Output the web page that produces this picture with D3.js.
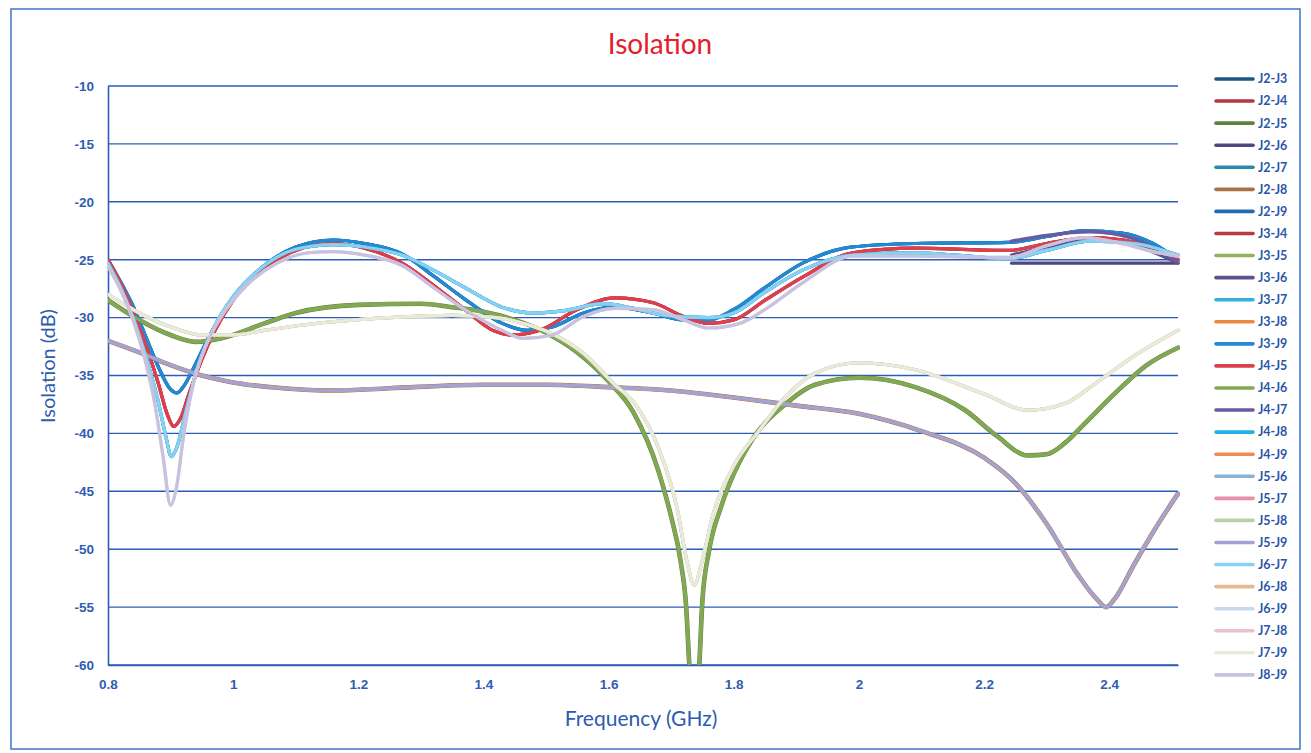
<!DOCTYPE html>
<html>
<head>
<meta charset="utf-8">
<script src="https://cdn.jsdelivr.net/npm/d3@7"></script>
<style>
  html, body { margin: 0; padding: 0; background: #fff; }
  svg { display: block; font-family: Lato, "Open Sans", sans-serif; }
</style>
</head>
<body>
<svg id="chart" width="1311" height="753"></svg>
<script>
// ---- data: [GHz, dB] points ----
const topNavy = [[0.80,-25.0],[0.82,-26.9],[0.84,-29.0],[0.86,-31.6],[0.88,-34.2],[0.90,-36.2],[0.91,-36.5],[0.92,-36.0],[0.94,-34.0],[0.96,-31.8],[1.00,-28.3],[1.05,-25.5],[1.10,-23.9],[1.16,-23.3],[1.21,-23.6],[1.27,-24.5],[1.32,-26.4],[1.37,-28.4],[1.43,-30.5],[1.47,-31.1],[1.51,-30.8],[1.56,-29.6],[1.61,-29.1],[1.67,-29.6],[1.72,-30.2],[1.76,-30.2],[1.80,-29.3],[1.85,-27.4],[1.91,-25.3],[1.99,-23.9],[2.09,-23.6],[2.24,-23.5],[2.30,-23.0],[2.36,-22.5],[2.42,-22.7],[2.47,-23.6],[2.51,-25.0]]

const topRed = [[0.80,-25.0],[0.82,-27.0],[0.84,-29.4],[0.86,-32.3],[0.88,-35.6],[0.895,-38.4],[0.905,-39.4],[0.915,-38.8],[0.93,-36.5],[0.95,-33.6],[0.97,-31.2],[1.00,-28.5],[1.05,-25.8],[1.10,-24.2],[1.16,-23.6],[1.21,-24.0],[1.27,-25.3],[1.32,-27.2],[1.37,-29.3],[1.415,-31.1],[1.447,-31.5],[1.49,-31.1],[1.55,-29.3],[1.61,-28.3],[1.67,-28.7],[1.72,-29.9],[1.76,-30.5],[1.80,-30.2],[1.85,-28.5],[1.91,-26.5],[1.99,-24.4],[2.09,-24.0],[2.24,-24.2],[2.30,-23.6],[2.37,-23.1],[2.44,-23.5],[2.51,-25.0]]

const topCyan = [[0.80,-25.3],[0.82,-27.4],[0.84,-30.0],[0.86,-33.3],[0.88,-37.2],[0.893,-40.4],[0.901,-42.0],[0.91,-41.2],[0.925,-38.0],[0.945,-34.0],[0.97,-30.8],[1.00,-28.2],[1.05,-25.5],[1.10,-24.1],[1.16,-23.7],[1.21,-23.9],[1.27,-24.6],[1.32,-25.9],[1.37,-27.4],[1.43,-29.1],[1.48,-29.6],[1.53,-29.4],[1.59,-28.8],[1.64,-29.2],[1.69,-29.8],[1.76,-30.0],[1.80,-29.6],[1.85,-27.8],[1.91,-25.9],[1.99,-24.6],[2.09,-24.4],[2.24,-24.9],[2.30,-24.2],[2.37,-23.4],[2.44,-23.6],[2.51,-24.6]]

const topLavender = [[0.80,-25.6],[0.82,-27.6],[0.84,-30.2],[0.86,-33.8],[0.875,-37.5],[0.888,-42.0],[0.90,-46.2],[0.91,-44.5],[0.92,-40.5],[0.935,-36.0],[0.955,-32.6],[0.98,-30.0],[1.02,-27.3],[1.07,-25.3],[1.12,-24.4],[1.16,-24.3],[1.21,-24.6],[1.27,-25.5],[1.32,-27.4],[1.37,-29.3],[1.43,-31.1],[1.463,-31.8],[1.51,-31.5],[1.56,-29.9],[1.61,-29.2],[1.67,-29.3],[1.72,-30.2],[1.76,-30.9],[1.81,-30.5],[1.85,-29.3],[1.91,-27.0],[1.99,-24.7],[2.09,-24.7],[2.24,-24.8],[2.30,-23.8],[2.36,-23.1],[2.42,-23.6],[2.47,-24.3],[2.51,-24.7]]

const green = [[0.80,-28.5],[0.85,-30.2],[0.90,-31.5],[0.94,-32.1],[0.98,-31.8],[1.05,-30.5],[1.10,-29.6],[1.20,-28.9],[1.30,-28.8],[1.35,-29.1],[1.40,-29.5],[1.45,-30.2],[1.50,-31.3],[1.55,-33.0],[1.60,-35.5],[1.64,-38.2],[1.68,-43.3],[1.70,-47.2],[1.715,-51.0],[1.724,-55.0],[1.729,-60.0],[1.737,-66.0],[1.745,-60.0],[1.75,-54.4],[1.76,-50.3],[1.78,-46.3],[1.80,-43.5],[1.83,-40.5],[1.88,-37.6],[1.93,-35.8],[2.00,-35.2],[2.09,-36.0],[2.17,-38.0],[2.22,-40.2],[2.27,-41.9],[2.30,-41.8],[2.33,-40.8],[2.36,-39.2],[2.41,-36.5],[2.46,-34.1],[2.51,-32.6]]

const paleGreen = [[0.80,-28.0],[0.85,-29.6],[0.90,-30.8],[0.95,-31.5],[1.00,-31.5],[1.05,-31.1],[1.15,-30.4],[1.25,-30.0],[1.35,-29.8],[1.42,-30.0],[1.47,-30.6],[1.51,-31.4],[1.56,-33.1],[1.61,-35.8],[1.64,-37.3],[1.68,-41.3],[1.71,-46.6],[1.725,-51.0],[1.737,-53.1],[1.75,-50.9],[1.766,-47.2],[1.80,-42.8],[1.84,-39.8],[1.88,-37.0],[1.93,-34.8],[2.00,-33.9],[2.09,-34.5],[2.20,-36.6],[2.27,-38.0],[2.33,-37.4],[2.38,-35.6],[2.44,-33.3],[2.51,-31.1]]

const lowCurve = [[0.80,-32.0],[0.85,-33.0],[0.90,-34.1],[0.95,-35.0],[1.00,-35.6],[1.08,-36.1],[1.16,-36.3],[1.25,-36.1],[1.40,-35.8],[1.50,-35.8],[1.60,-36.0],[1.70,-36.3],[1.80,-36.9],[1.90,-37.6],[2.00,-38.3],[2.10,-39.8],[2.20,-42.1],[2.25,-44.3],[2.30,-47.8],[2.35,-52.2],[2.38,-54.3],[2.395,-55.0],[2.41,-54.2],[2.44,-51.3],[2.475,-48.1],[2.51,-45.2]]

// purple traces that only appear at the high end
const purpleTop = [[2.244,-23.4],[2.30,-22.9],[2.37,-22.6],[2.44,-23.2],[2.51,-25.2]]
const purpleMid = [[2.244,-24.6],[2.30,-23.9],[2.37,-23.2],[2.43,-23.6],[2.51,-25.3]]
const purpleFlat = [[2.244,-25.3],[2.51,-25.3]]

const seriesNames = ['J2-J3','J2-J4','J2-J5','J2-J6','J2-J7','J2-J8','J2-J9','J3-J4','J3-J5','J3-J6','J3-J7','J3-J8','J3-J9','J4-J5','J4-J6','J4-J7','J4-J8','J4-J9','J5-J6','J5-J7','J5-J8','J5-J9','J6-J7','J6-J8','J6-J9','J7-J8','J7-J9','J8-J9']
const seriesColors = ['#1b5883','#b13944','#5f8240','#4f4682','#2a8aab','#a8714a','#1f6db0','#ba3a42','#92b25f','#5f5092','#34b2da','#e98a42','#2289d2','#dc3f4e','#82a852','#6a5aa0','#22b0e8','#f08a50','#8ab1d9','#e890a8','#b9d1a9','#a3a3d3','#8ad0f0','#e8b991','#c8d8ec','#e9c2cd','#e5edd9','#c9c1dd']
const seriesData = [topNavy, topRed, green, purpleFlat, topCyan, lowCurve, topNavy, topRed, green, purpleMid, topCyan, lowCurve, topNavy, topRed, green, purpleTop, topCyan, lowCurve, lowCurve, paleGreen, paleGreen, lowCurve, topCyan, paleGreen, topLavender, paleGreen, paleGreen, topLavender]

const xTicks = [0.8, 1, 1.2, 1.4, 1.6, 1.8, 2, 2.2, 2.4]
const yTicks = [-10, -15, -20, -25, -30, -35, -40, -45, -50, -55, -60]

// ---- layout ----
const plotLeft = 108, plotRight = 1178, plotTop = 86, plotBottom = 665
const svg = d3.select('#chart')

svg.append('rect')
  .attr('x', 11).attr('y', 9)
  .attr('width', 1289).attr('height', 740)
  .attr('fill', 'none')
  .attr('stroke', '#3f74c6')
  .attr('stroke-width', 1.5)

let xScale = d3.scaleLinear().domain([0.8, 2.51]).range([plotLeft, plotRight])
let yScale = d3.scaleLinear().domain([-60, -10]).range([plotBottom, plotTop])

// gridlines
svg.append('g').selectAll('line').data(yTicks)
  .enter().append('line')
  .attr('x1', plotLeft).attr('x2', plotRight)
  .attr('y1', d => yScale(d)).attr('y2', d => yScale(d))
  .attr('stroke', '#2a5cb8')
  .attr('stroke-width', 1.4)

// axes (plain hyphen minus, like the original)
let yAxis = svg.append('g')
  .attr('transform', `translate(${plotLeft},0)`)
  .call(d3.axisLeft(yScale).tickValues(yTicks).tickSize(0).tickPadding(14).tickFormat(d => String(d)))
let xAxis = svg.append('g')
  .attr('transform', `translate(0,${plotBottom})`)
  .call(d3.axisBottom(xScale).tickValues(xTicks).tickSize(0).tickPadding(14).tickFormat(d => String(d)))
;[xAxis, yAxis].forEach(ax => {
  ax.select('.domain').attr('stroke', '#2a5cb8').attr('stroke-width', 1.6)
  ax.selectAll('text')
    .attr('fill', '#2f5db0')
    .style('font-size', '13.5px')
    .style('font-weight', '700')
})

// series
svg.append('clipPath').attr('id', 'plot-clip')
  .append('rect')
  .attr('x', plotLeft).attr('y', plotTop - 20)
  .attr('width', plotRight - plotLeft + 2).attr('height', plotBottom - plotTop + 20)

let line = d3.line()
  .x(d => xScale(d[0]))
  .y(d => yScale(d[1]))
  .curve(d3.curveMonotoneX)

// the darker traces lying underneath show as a thin edge in the scan
const wideUnder = ['J2-J5', 'J2-J8']

svg.append('g').attr('clip-path', 'url(#plot-clip)')
  .selectAll('path').data(seriesNames)
  .enter().append('path')
  .attr('d', (d, i) => line(seriesData[i]))
  .attr('fill', 'none')
  .attr('stroke', (d, i) => seriesColors[i])
  .attr('stroke-width', d => wideUnder.includes(d) ? 4.6 : 3.2)
  .attr('stroke-linejoin', 'round')
  .attr('stroke-linecap', 'round')

// legend
let legend = svg.append('g').selectAll('g').data(seriesNames)
  .enter().append('g')
  .attr('transform', (d, i) => `translate(1216,${79 + i * 22.07})`)
legend.append('line')
  .attr('x1', 0).attr('x2', 37)
  .attr('stroke', (d, i) => seriesColors[i])
  .attr('stroke-width', 3.6)
  .attr('stroke-linecap', 'round')
legend.append('text')
  .attr('x', 42).attr('dy', '0.35em')
  .text(d => d)
  .attr('fill', '#2b56a8')
  .style('font-size', '12.5px')
  .style('font-weight', '700')

// titles
svg.append('text')
  .attr('x', 660).attr('y', 54)
  .attr('text-anchor', 'middle')
  .text('Isolation')
  .attr('fill', '#e3202b')
  .style('font-size', '28px')

svg.append('text')
  .attr('x', 641).attr('y', 726)
  .attr('text-anchor', 'middle')
  .text('Frequency (GHz)')
  .attr('fill', '#2d5bb0')
  .style('font-size', '21px')

svg.append('text')
  .attr('transform', 'translate(55,366) rotate(-90)')
  .attr('text-anchor', 'middle')
  .text('Isolation (dB)')
  .attr('fill', '#2d5bb0')
  .style('font-size', '20px')
</script>
</body>
</html>
